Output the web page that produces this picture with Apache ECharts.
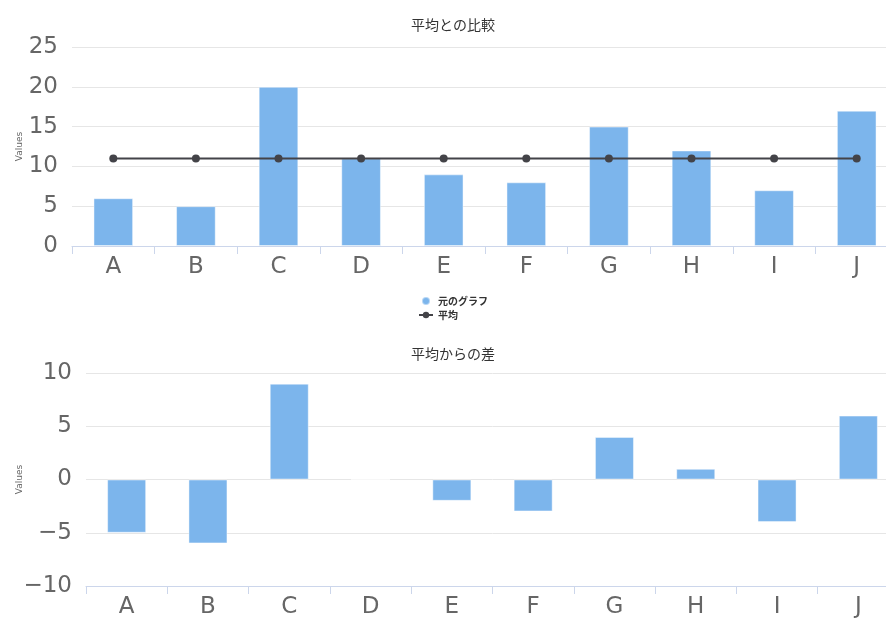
<!DOCTYPE html>
<html>
<head>
<meta charset="utf-8">
<script src="https://cdn.jsdelivr.net/npm/echarts@6/dist/echarts.min.js"></script>
<style>
  html, body { margin: 0; padding: 0; background: #fff; overflow: hidden; width: 886px; height: 621px; }
  /* the plot areas run slightly past the right edge of the window */
  #chart { width: 912px; height: 621px; }
</style>
</head>
<body>
<div id="chart"></div>
<script>
// Categories and values
const categories = ['A', 'B', 'C', 'D', 'E', 'F', 'G', 'H', 'I', 'J'];
const originalValues = [6, 5, 20, 11, 9, 8, 15, 12, 7, 17];
const averageValues = [11, 11, 11, 11, 11, 11, 11, 11, 11, 11];
const diffValues = [-5, -6, 9, 0, -2, -3, 4, 1, -4, 6];
const topTicks = { min: 0, max: 25, interval: 5 };
const bottomTicks = { min: -10, max: 10, interval: 5 };

const FONT = '"DejaVu Sans", "Noto Sans CJK JP", sans-serif';
const CJK_FONT = '"Noto Sans CJK JP", sans-serif';
const BAR_COLOR = '#7cb5ec';
const LINE_COLOR = '#434348';

const chart = echarts.init(document.getElementById('chart'), null, { renderer: 'canvas' });

function xAxisCfg(gridIndex) {
  return {
    type: 'category',
    gridIndex: gridIndex,
    data: categories,
    boundaryGap: true,
    axisLine: { onZero: false, lineStyle: { color: '#ccd6eb', width: 1 } },
    axisTick: { show: true, length: 8, lineStyle: { color: '#ccd6eb' } },
    axisLabel: { color: '#666', fontSize: 23, fontFamily: FONT, margin: 10 },
    splitLine: { show: false }
  };
}

function yAxisCfg(gridIndex, ticks, nameGap) {
  return {
    type: 'value',
    gridIndex: gridIndex,
    min: ticks.min,
    max: ticks.max,
    interval: ticks.interval,
    name: 'Values',
    nameLocation: 'middle',
    nameRotate: 90,
    nameGap: nameGap,
    nameMoveOverlap: false,
    nameTextStyle: { color: '#666', fontSize: 9, fontFamily: FONT },
    axisLine: { show: false },
    axisTick: { show: false },
    axisLabel: {
      color: '#666', fontSize: 23, fontFamily: FONT, margin: 14,
      formatter: function (v) { return String(v).replace('-', '\u2212'); }
    },
    splitLine: { show: true, lineStyle: { color: '#e6e6e6', width: 1 } }
  };
}

const option = {
  animation: false,
  backgroundColor: '#ffffff',
  textStyle: { fontFamily: FONT },
  title: [
    {
      text: '平均との比較',
      left: 453, top: 18, textAlign: 'center', padding: 0,
      textStyle: { fontSize: 14, fontWeight: 'normal', color: '#333', fontFamily: CJK_FONT }
    },
    {
      text: '平均からの差',
      left: 453, top: 347, textAlign: 'center', padding: 0,
      textStyle: { fontSize: 14, fontWeight: 'normal', color: '#333', fontFamily: CJK_FONT }
    }
  ],
  legend: {
    orient: 'vertical',
    left: 418,
    top: 296,
    padding: 0,
    itemWidth: 14,
    itemHeight: 8,
    itemGap: 4,
    textStyle: { fontSize: 10, fontWeight: 'bold', color: '#333', fontFamily: CJK_FONT },
    data: [
      { name: '元のグラフ', icon: 'circle' },
      { name: '平均' }
    ]
  },
  grid: [
    { left: 72, top: 47, width: 826, height: 199, containLabel: false, outerBoundsMode: 'none' },
    { left: 86, top: 373, width: 813, height: 213, containLabel: false, outerBoundsMode: 'none' }
  ],
  xAxis: [xAxisCfg(0), xAxisCfg(1)],
  yAxis: [yAxisCfg(0, topTicks, 48), yAxisCfg(1, bottomTicks, 62)],
  series: [
    {
      name: '元のグラフ',
      type: 'bar',
      xAxisIndex: 0, yAxisIndex: 0,
      data: originalValues,
      barWidth: '48%',
      itemStyle: { color: BAR_COLOR, borderColor: 'rgba(255,255,255,0.45)', borderWidth: 1 }
    },
    {
      name: '平均',
      type: 'line',
      xAxisIndex: 0, yAxisIndex: 0,
      data: averageValues,
      symbol: 'circle',
      symbolSize: 8,
      lineStyle: { color: LINE_COLOR, width: 2 },
      itemStyle: { color: LINE_COLOR }
    },
    {
      name: '差',
      type: 'bar',
      xAxisIndex: 1, yAxisIndex: 1,
      data: diffValues,
      barWidth: '48%',
      itemStyle: { color: BAR_COLOR, borderColor: 'rgba(255,255,255,0.45)', borderWidth: 1 }
    }
  ]
};

chart.setOption(option);
</script>
</body>
</html>
